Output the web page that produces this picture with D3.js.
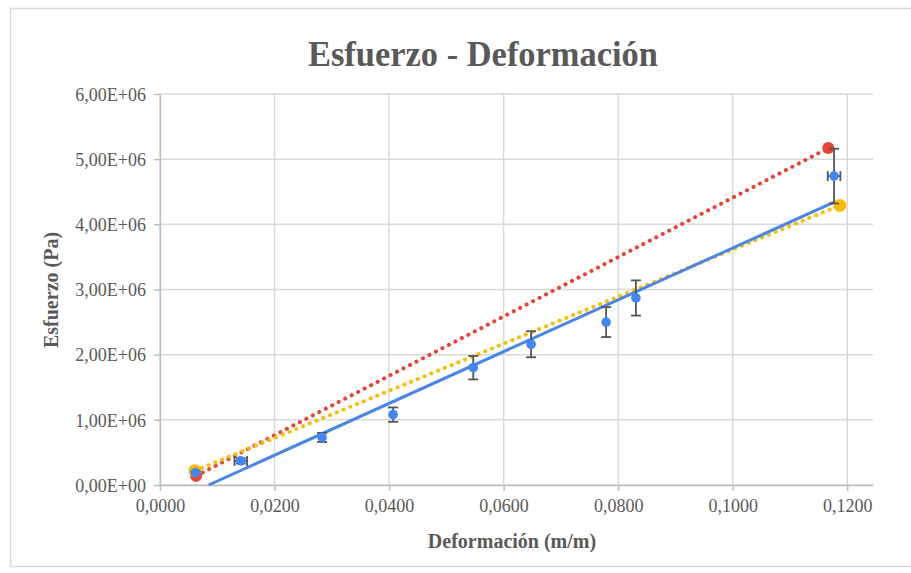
<!DOCTYPE html>
<html>
<head>
<script src="https://d3js.org/d3.v7.min.js"></script>
<style>
  body { margin: 0; background: #fff; }
  text { font-family: "Liberation Serif", "Times New Roman", serif; }
</style>
</head>
<body>
<script>
// measured points (blue) with error bars
var strain = [0.0062, 0.0141, 0.0283, 0.0407, 0.0547, 0.0648, 0.0779, 0.0831, 0.1177];
var stress = [0.19e6, 0.37e6, 0.73e6, 1.08e6, 1.80e6, 2.16e6, 2.50e6, 2.87e6, 4.74e6];
var stressErr = [0.02e6, 0.04e6, 0.07e6, 0.11e6, 0.18e6, 0.20e6, 0.23e6, 0.27e6, 0.42e6];
var strainErr = [0, 0.0011, 0, 0, 0, 0, 0, 0, 0.0011];

// linear trend of blue points (endpoints)
var trendX = [0.0085, 0.1177];
var trendY = [0, 4.34e6];

// red and yellow reference lines
var redX = [0.0063, 0.1167];
var redY = [0.14e6, 5.17e6];
var yellowX = [0.0061, 0.1187];
var yellowY = [0.22e6, 4.29e6];

var xTicks = [0, 0.02, 0.04, 0.06, 0.08, 0.10, 0.12];
var yTicks = [0, 1e6, 2e6, 3e6, 4e6, 5e6, 6e6];

var W = 911, H = 573;
var margin = {top: 94, right: 38, bottom: 88, left: 160};

var svg = d3.select("body").append("svg")
    .attr("width", W).attr("height", H);

// chart frame
svg.append("rect")
    .attr("x", 10.5).attr("y", 8.5)
    .attr("width", W + 10).attr("height", 558)
    .attr("fill", "#fff").attr("stroke", "#d9d9d9").attr("stroke-width", 1.5);

var x = d3.scaleLinear().domain([0, 0.1245]).range([margin.left, W - margin.right]);
var y = d3.scaleLinear().domain([0, 6e6]).range([H - margin.bottom, margin.top]);

var fmtX = function(d) { return d3.format(".4f")(d).replace(".", ","); };
var fmtY = function(d) {
  var s = d3.format(".2e")(d); // 1.00e+6
  var parts = s.split("e");
  var exp = parseInt(parts[1], 10);
  return parts[0].replace(".", ",") + "E" + (exp < 0 ? "-" : "+") + d3.format("02d")(Math.abs(exp));
};

// grid
svg.append("g").selectAll("line").data(yTicks).enter().append("line")
    .attr("x1", x(0)).attr("x2", x.range()[1])
    .attr("y1", function(d) { return y(d); }).attr("y2", function(d) { return y(d); })
    .attr("stroke", "#d9d9d9").attr("stroke-width", 1.5);
svg.append("g").selectAll("line").data(xTicks).enter().append("line")
    .attr("x1", function(d) { return x(d); }).attr("x2", function(d) { return x(d); })
    .attr("y1", y(0)).attr("y2", y(6e6))
    .attr("stroke", "#d9d9d9").attr("stroke-width", 1.5);

// axes
var xAxis = svg.append("g")
    .attr("transform", "translate(0," + y(0) + ")")
    .call(d3.axisBottom(x).tickValues(xTicks).tickFormat(fmtX).tickSizeInner(6).tickSizeOuter(0).tickPadding(8));
var yAxis = svg.append("g")
    .attr("transform", "translate(" + x(0) + ",0)")
    .call(d3.axisLeft(y).tickValues(yTicks).tickFormat(fmtY).tickSizeInner(6).tickSizeOuter(0).tickPadding(8));
[xAxis, yAxis].forEach(function(a) {
  a.select(".domain").attr("stroke", "#bfbfbf").attr("stroke-width", 1.5);
  a.selectAll(".tick line").attr("stroke", "#bfbfbf").attr("stroke-width", 1.5);
  a.selectAll(".tick text").attr("fill", "#595959").style("font-size", "18px")
    .style("font-family", "'Liberation Serif', serif");
});
yAxis.selectAll(".tick text").attr("dy", "0.35em");

// titles
svg.append("text")
    .attr("x", 483).attr("y", 66)
    .attr("text-anchor", "middle")
    .attr("textLength", 350).attr("lengthAdjust", "spacingAndGlyphs")
    .attr("fill", "#595959").attr("font-weight", "bold").style("font-size", "35px")
    .text("Esfuerzo - Deformación");
svg.append("text")
    .attr("x", 512).attr("y", 548)
    .attr("text-anchor", "middle")
    .attr("fill", "#595959").attr("font-weight", "bold").style("font-size", "20px")
    .text("Deformación (m/m)");
svg.append("text")
    .attr("transform", "translate(58,290) rotate(-90)")
    .attr("text-anchor", "middle")
    .attr("fill", "#595959").attr("font-weight", "bold").style("font-size", "20px")
    .text("Esfuerzo (Pa)");

var line = d3.line().x(function(d) { return x(d[0]); }).y(function(d) { return y(d[1]); });

// red dotted
svg.append("path")
    .attr("d", line(d3.zip(redX, redY)))
    .attr("fill", "none").attr("stroke", "#ea4335").attr("stroke-width", 4)
    .attr("stroke-linecap", "round").attr("stroke-dasharray", "0.1 7.2");
// yellow dotted
svg.append("path")
    .attr("d", line(d3.zip(yellowX, yellowY)))
    .attr("fill", "none").attr("stroke", "#fbbc04").attr("stroke-width", 4)
    .attr("stroke-linecap", "round").attr("stroke-dasharray", "0.1 7.2");
// blue trend
svg.append("path")
    .attr("d", line(d3.zip(trendX, trendY)))
    .attr("fill", "none").attr("stroke", "#4a86e8").attr("stroke-width", 3);

// end points of red and yellow
svg.append("g").selectAll("circle").data(d3.zip(redX, redY)).enter().append("circle")
    .attr("cx", function(d) { return x(d[0]); }).attr("cy", function(d) { return y(d[1]); })
    .attr("r", 6).attr("fill", "#ea4335");
svg.append("g").selectAll("circle").data(d3.zip(yellowX, yellowY)).enter().append("circle")
    .attr("cx", function(d) { return x(d[0]); }).attr("cy", function(d) { return y(d[1]); })
    .attr("r", 6.5).attr("fill", "#fbbc04");

// error bars
var pts = strain.map(function(s, i) {
  return {x: s, y: stress[i], ey: stressErr[i], ex: strainErr[i]};
});
var eb = svg.append("g").attr("stroke", "#555").attr("stroke-width", 1.8).attr("fill", "none");
pts.forEach(function(p) {
  var cx = x(p.x), cy = y(p.y);
  if (p.ey > 0) {
    var t = y(p.y + p.ey), b = y(p.y - p.ey);
    eb.append("line").attr("x1", cx).attr("x2", cx).attr("y1", t).attr("y2", b);
    eb.append("line").attr("x1", cx - 5).attr("x2", cx + 5).attr("y1", t).attr("y2", t);
    eb.append("line").attr("x1", cx - 5).attr("x2", cx + 5).attr("y1", b).attr("y2", b);
  }
  if (p.ex > 0) {
    var l = x(p.x - p.ex), r = x(p.x + p.ex);
    eb.append("line").attr("x1", l).attr("x2", r).attr("y1", cy).attr("y2", cy);
    eb.append("line").attr("x1", l).attr("x2", l).attr("y1", cy - 5).attr("y2", cy + 5);
    eb.append("line").attr("x1", r).attr("x2", r).attr("y1", cy - 5).attr("y2", cy + 5);
  }
});

// blue points
svg.append("g").selectAll("circle").data(pts).enter().append("circle")
    .attr("cx", function(d) { return x(d.x); }).attr("cy", function(d) { return y(d.y); })
    .attr("r", 4.8).attr("fill", "#4285f4");
</script>
</body>
</html>
